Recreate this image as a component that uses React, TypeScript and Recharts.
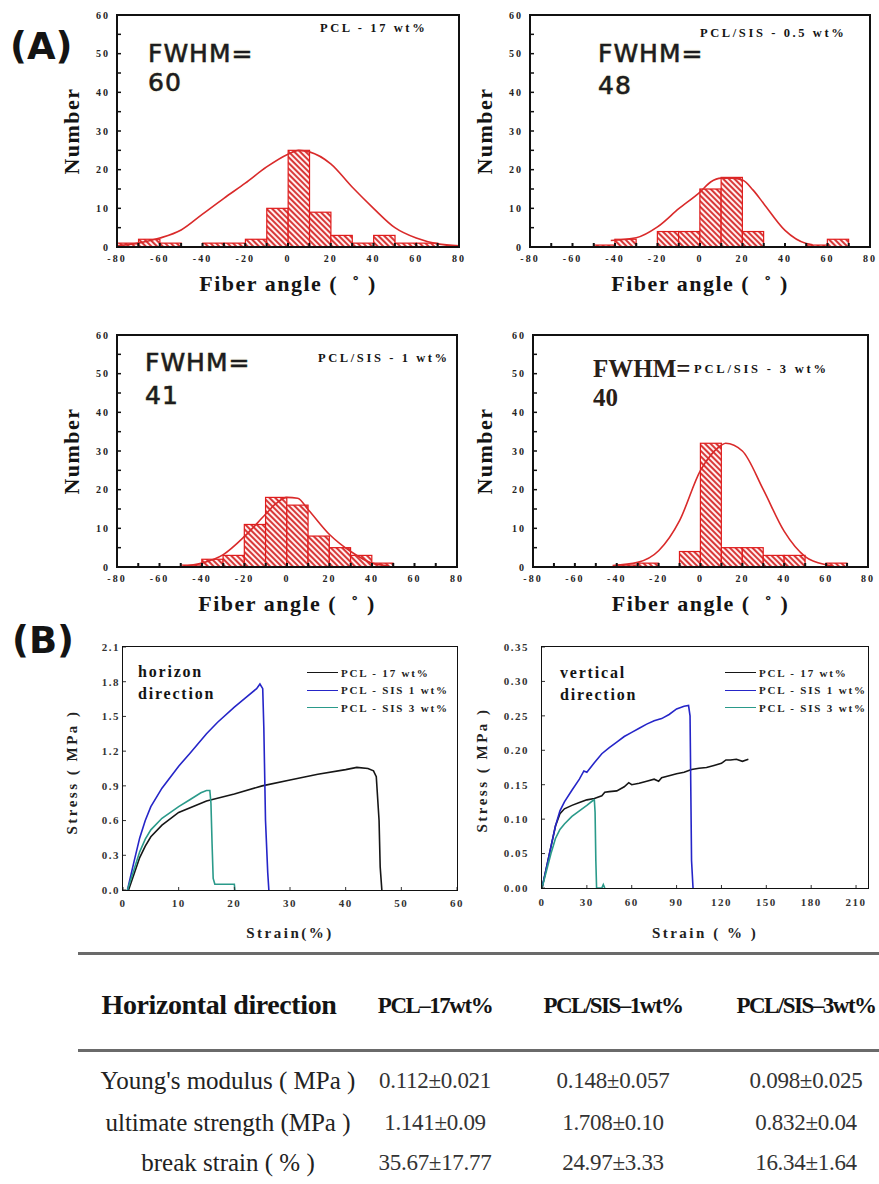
import React from 'react';
import { ComposedChart, LineChart, Bar, Line, XAxis, YAxis, Legend } from 'recharts';

// ---- (A) fiber angle histograms, 10 degree bins ----
const binCenters = [-75, -65, -55, -45, -35, -25, -15, -5, 5, 15, 25, 35, 45, 55, 65, 75];
const countsPcl17 = [1, 2, 1, 0, 1, 1, 2, 10, 25, 9, 3, 1, 3, 1, 1, 0];
const countsSis05 = [0, 0, 0, 0.5, 2, 0, 4, 4, 15, 18, 4, 0, 0, 0.5, 2, 0];
const countsSis1 = [0, 0, 0, 0.5, 2, 3, 11, 18, 16, 8, 5, 3, 1, 0, 0, 0];
const countsSis3 = [0, 0, 0, 0, 0.5, 1, 0, 4, 32, 5, 5, 3, 3, 0, 1, 0];

// fitted curves
const fitXPcl17 = [-80, -70, -60, -50, -40, -30, -20, -10, 0, 5, 10, 20, 30, 40, 50, 60, 70, 80];
const fitYPcl17 = [0.3, 1, 2.3, 4.4, 8.5, 12.6, 16.5, 20.7, 24, 25, 24.6, 21.5, 15.5, 10, 5, 2.3, 0.8, 0.3];
const fitXSis05 = [-42, -30, -20, -10, 0, 5, 10, 15, 20, 25, 30, 40, 50, 53];
const fitYSis05 = [1.7, 2.4, 5.2, 9.9, 14.2, 16.8, 17.8, 17.8, 17.3, 14.7, 11.2, 4.3, 0.9, 0.6];
const fitXSis1 = [-48, -40, -30, -20, -10, -5, 0, 5, 10, 20, 30, 40, 48];
const fitYSis1 = [0.2, 1, 3.2, 7.9, 13.7, 16.5, 18, 17.8, 14.8, 8.4, 4, 1, 0.3];
const fitXSis3 = [-42, -30, -20, -10, 0, 5, 10, 12, 20, 30, 40, 50, 60, 63];
const fitYSis3 = [0.4, 1.2, 4.2, 12, 25, 29, 31.5, 32, 30, 20, 9.2, 2.7, 0.6, 0.3];

const angleTicks = [-80, -70, -60, -50, -40, -30, -20, -10, 0, 10, 20, 30, 40, 50, 60, 70, 80];
const countTicks = [0, 5, 10, 15, 20, 25, 30, 35, 40, 45, 50, 55, 60];

// ---- (B) stress-strain curves ----
const seriesNames = ['PCL - 17 wt%', 'PCL - SIS 1 wt%', 'PCL - SIS 3 wt%'];
const seriesColors = ['#161616', '#2525c8', '#2a9a8a'];

const hStrain17 = [1, 2, 3, 4, 5, 7, 10, 15, 20, 25, 30, 35, 40, 42, 44, 45, 45.5, 46, 46.2, 46.5];
const hStress17 = [0, 0.14, 0.28, 0.38, 0.46, 0.56, 0.67, 0.77, 0.83, 0.9, 0.95, 1.0, 1.04, 1.06, 1.05, 1.03, 0.98, 0.6, 0.2, 0];
const hStrain1 = [0.8, 2, 3, 4, 5, 7, 10, 12, 15, 17, 20, 22, 24, 24.6, 25.1, 25.3, 25.6, 26, 26.2];
const hStress1 = [0, 0.25, 0.45, 0.6, 0.72, 0.88, 1.07, 1.18, 1.35, 1.45, 1.58, 1.66, 1.74, 1.78, 1.74, 1.4, 0.6, 0.15, 0];
const hStrain3 = [0.8, 2, 3, 4, 5, 7, 10, 12, 14, 15, 15.6, 15.8, 16, 16.2, 16.5, 18, 20, 20.1];
const hStress3 = [0, 0.18, 0.33, 0.44, 0.52, 0.62, 0.72, 0.78, 0.84, 0.86, 0.86, 0.75, 0.4, 0.1, 0.05, 0.05, 0.05, 0];

const vStrain17 = [0, 3, 6, 9, 12, 15, 20, 25, 30, 35, 40, 42, 45, 50, 55, 58, 60, 65, 70, 75, 78, 80, 85, 90, 95, 100, 105, 110, 115, 120, 123, 126, 130, 134, 138];
const vStress17 = [0, 0.03, 0.06, 0.09, 0.108, 0.115, 0.12, 0.124, 0.128, 0.13, 0.134, 0.139, 0.14, 0.141, 0.147, 0.153, 0.15, 0.152, 0.155, 0.158, 0.155, 0.16, 0.163, 0.166, 0.168, 0.172, 0.174, 0.175, 0.178, 0.181, 0.186, 0.186, 0.187, 0.184, 0.187];
const vStrain1 = [0, 3, 6, 9, 12, 15, 20, 25, 28, 30, 35, 40, 45, 50, 55, 60, 65, 70, 75, 80, 85, 90, 95, 98, 99, 100, 101];
const vStress1 = [0, 0.03, 0.06, 0.09, 0.112, 0.125, 0.142, 0.158, 0.17, 0.168, 0.182, 0.195, 0.204, 0.212, 0.22, 0.226, 0.232, 0.238, 0.243, 0.246, 0.252, 0.26, 0.264, 0.265, 0.25, 0.04, 0];
const vStrain3 = [0, 3, 6, 9, 12, 15, 20, 25, 30, 34, 35, 35.5, 36, 36.5, 40, 41, 42];
const vStress3 = [0, 0.025, 0.05, 0.072, 0.085, 0.093, 0.104, 0.112, 0.12, 0.127, 0.128, 0.11, 0.04, 0, 0, 0.005, 0];

const hStrainTicks = [0, 10, 20, 30, 40, 50, 60];
const hStressTicks = [0, 0.3, 0.6, 0.9, 1.2, 1.5, 1.8, 2.1];
const vStrainTicks = [0, 30, 60, 90, 120, 150, 180, 210];
const vStressTicks = [0, 0.05, 0.1, 0.15, 0.2, 0.25, 0.3, 0.35];

// ---- table ----
const tableColumns = ['PCL–17wt%', 'PCL/SIS–1wt%', 'PCL/SIS–3wt%'];
const tableRows = ["Young's modulus ( MPa )", 'ultimate strength (MPa )', 'break strain ( % )'];
const tableValues = [
  ['0.112±0.021', '0.148±0.057', '0.098±0.025'],
  ['1.141±0.09', '1.708±0.10', '0.832±0.04'],
  ['35.67±17.77', '24.97±3.33', '16.34±1.64'],
];

const SERIF = '"Liberation Serif", "Times New Roman", serif';
const SANS = '"DejaVu Sans", sans-serif';

const toPoints = (xs: number[], ys: number[], xKey: string, yKey: string) =>
  xs.map((x, i) => ({ [xKey]: x, [yKey]: ys[i] }));

type Frame = [number, number, number, number];

function Txt({ x, y, children, style, center, rotate }: any) {
  let transform = center ? 'translate(-50%,-50%)' : 'translateY(-50%)';
  if (rotate) transform += ' rotate(-90deg)';
  return (
    <div style={{ position: 'absolute', left: x, top: y, transform, whiteSpace: 'nowrap', lineHeight: 1, color: '#141414', ...style }}>
      {children}
    </div>
  );
}

function Box({ frame, w = 2 }: { frame: Frame; w?: number }) {
  const [x, y, fw, fh] = frame;
  return (
    <div style={{ position: 'absolute', left: x - w / 2, top: y - w / 2, width: fw + w, height: fh + w, border: `${w}px solid #111`, boxSizing: 'border-box' }} />
  );
}

const histTick = { fontSize: 10, fontWeight: 700, fill: '#222', fontFamily: SERIF, letterSpacing: 2 };

function Histogram({ id, frame, counts, fitX, fitY }: { id: string; frame: Frame; counts: number[]; fitX: number[]; fitY: number[] }) {
  const [x, y, w, h] = frame;
  const data = toPoints(binCenters, counts, 'angle', 'count');
  const fit = toPoints(fitX, fitY, 'angle', 'fit');
  // a bin covers 10 of the 160 degrees on the axis
  const binWidth = w / 16;
  const binShape = (p: any) => {
    if (!p.height || p.height <= 0) return <g />;
    const cx = p.x + p.width / 2;
    return (
      <rect x={cx - binWidth / 2} y={p.y} width={binWidth} height={p.height} fill={`url(#${id})`} stroke="#e01c1c" strokeWidth={1.2} />
    );
  };
  return (
    <div style={{ position: 'absolute', left: x - 60, top: y - 20 }}>
      <ComposedChart width={w + 80} height={h + 70} data={data} margin={{ top: 20, right: 20, bottom: 20, left: 20 }} barCategoryGap={0} barGap={0}>
        <defs>
          <pattern id={id} patternUnits="userSpaceOnUse" width="4" height="4" patternTransform="rotate(-45)">
            <rect width="4" height="4" fill="#fff0f0" />
            <line x1="1" y1="0" x2="1" y2="4" stroke="#d42424" strokeWidth="1.8" />
          </pattern>
        </defs>
        <XAxis
          dataKey="angle"
          type="number"
          domain={[-80, 80]}
          ticks={angleTicks}
          interval={0}
          allowDataOverflow
          height={30}
          axisLine={false}
          tickSize={-4}
          tickMargin={12}
          tickLine={{ stroke: '#111', strokeWidth: 2 }}
          tickFormatter={(v: number) => (v % 20 === 0 ? String(v) : '')}
          tick={histTick}
        />
        <YAxis
          type="number"
          domain={[0, 60]}
          ticks={countTicks}
          interval={0}
          allowDataOverflow
          width={40}
          axisLine={false}
          tickSize={-4}
          tickMargin={11}
          tickLine={{ stroke: '#111', strokeWidth: 1.5 }}
          tickFormatter={(v: number) => (v % 10 === 0 ? String(v) : '')}
          tick={histTick}
        />
        <Bar dataKey="count" shape={binShape} isAnimationActive={false} />
        <Line data={fit} dataKey="fit" type="monotone" stroke="#d92a2a" strokeWidth={1.6} dot={false} isAnimationActive={false} />
      </ComposedChart>
    </div>
  );
}

const ssTick = { fontSize: 11, fontWeight: 700, fill: '#333', fontFamily: SERIF, letterSpacing: 1.5 };

function renderLegend(props: any) {
  const { payload } = props;
  return (
    <div>
      {(payload || []).map((p: any) => (
        <div key={p.value} style={{ display: 'flex', alignItems: 'center', height: 17.5 }}>
          <span style={{ display: 'inline-block', width: 31, borderTop: `1.6px solid ${p.color}`, marginRight: 3 }} />
          <span style={{ fontFamily: SERIF, fontWeight: 700, fontSize: 11, letterSpacing: 1.8, color: '#222' }}>{p.value}</span>
        </div>
      ))}
    </div>
  );
}

function StressChart({ frame, xMax, xTicks, yMax, yTicks, digits, yMargin, xMargin, series, legendAt }: any) {
  const [x, y, w, h] = frame;
  return (
    <div style={{ position: 'absolute', left: x - 60, top: y - 20 }}>
      <LineChart width={w + 80} height={h + 70} margin={{ top: 20, right: 20, bottom: 20, left: 20 }}>
        <XAxis
          dataKey="strain"
          type="number"
          domain={[0, xMax]}
          ticks={xTicks}
          interval={0}
          allowDataOverflow
          height={30}
          axisLine={false}
          tickSize={-3}
          tickMargin={xMargin}
          tickLine={{ stroke: '#333' }}
          tick={ssTick}
        />
        <YAxis
          type="number"
          domain={[0, yMax]}
          ticks={yTicks}
          interval={0}
          allowDataOverflow
          width={40}
          axisLine={false}
          tickSize={-3}
          tickMargin={yMargin}
          tickLine={{ stroke: '#333' }}
          tickFormatter={(v: number) => v.toFixed(digits)}
          tick={ssTick}
        />
        <Legend
          content={renderLegend}
          layout="vertical"
          align="center"
          verticalAlign="middle"
          wrapperStyle={{ left: legendAt[0], top: legendAt[1], width: 'auto', height: 'auto' }}
        />
        {series.map((s: any) => (
          <Line
            key={s.name}
            data={s.data}
            dataKey="stress"
            name={s.name}
            type="linear"
            stroke={s.color}
            strokeWidth={1.6}
            dot={false}
            isAnimationActive={false}
          />
        ))}
      </LineChart>
    </div>
  );
}

const H1: Frame = [117, 15, 342, 232];
const H2: Frame = [530, 15, 340, 232];
const H3: Frame = [117, 335, 340, 232];
const H4: Frame = [533, 335, 335, 232];
const S1: Frame = [123, 647, 334, 243];
const S2: Frame = [542, 647, 326, 241];

const fwhmStyle = { fontFamily: SANS, fontSize: 25, letterSpacing: 1, color: '#1c1c1c', WebkitTextStroke: '0.6px #1c1c1c', textShadow: '0 0 3px #f3ecc8' };
const titleStyle = { fontFamily: SERIF, fontWeight: 700, fontSize: 12.5, letterSpacing: 2.6 };
const axisTitle = { fontFamily: SERIF, fontWeight: 700, fontSize: 22, letterSpacing: 1.5 };
const ssAxisTitle = { fontFamily: SERIF, fontWeight: 700, fontSize: 15, letterSpacing: 2.5, color: '#222' };
const dirStyle = { fontFamily: SERIF, fontWeight: 700, fontSize: 16, letterSpacing: 1.8 };

export default function App() {
  const hSeries = [
    { name: seriesNames[0], color: seriesColors[0], data: toPoints(hStrain17, hStress17, 'strain', 'stress') },
    { name: seriesNames[1], color: seriesColors[1], data: toPoints(hStrain1, hStress1, 'strain', 'stress') },
    { name: seriesNames[2], color: seriesColors[2], data: toPoints(hStrain3, hStress3, 'strain', 'stress') },
  ];
  const vSeries = [
    { name: seriesNames[0], color: seriesColors[0], data: toPoints(vStrain17, vStress17, 'strain', 'stress') },
    { name: seriesNames[1], color: seriesColors[1], data: toPoints(vStrain1, vStress1, 'strain', 'stress') },
    { name: seriesNames[2], color: seriesColors[2], data: toPoints(vStrain3, vStress3, 'strain', 'stress') },
  ];
  const colCenters = [435, 613, 806];
  const rowYs = [1080, 1122, 1162];

  return (
    <div style={{ position: 'absolute', left: 0, top: 0, width: 879, height: 1184, overflow: 'hidden', background: '#fff' }}>
      <Txt x={10} y={46} style={{ fontFamily: SANS, fontWeight: 700, fontSize: 37 }}>(A)</Txt>
      <Txt x={12} y={640} style={{ fontFamily: SANS, fontWeight: 700, fontSize: 37 }}>(B)</Txt>

      <Histogram id="hatch1" frame={H1} counts={countsPcl17} fitX={fitXPcl17} fitY={fitYPcl17} />
      <Histogram id="hatch2" frame={H2} counts={countsSis05} fitX={fitXSis05} fitY={fitYSis05} />
      <Histogram id="hatch3" frame={H3} counts={countsSis1} fitX={fitXSis1} fitY={fitYSis1} />
      <Histogram id="hatch4" frame={H4} counts={countsSis3} fitX={fitXSis3} fitY={fitYSis3} />
      <Box frame={H1} />
      <Box frame={H2} />
      <Box frame={H3} />
      <Box frame={H4} />

      {[H1, H2, H3, H4].map((f, i) => (
        <React.Fragment key={i}>
          <Txt x={i % 2 === 0 ? 72 : 485} y={f[1] + f[3] / 2} center rotate style={axisTitle}>Number</Txt>
          <Txt x={f[0] + f[2] / 2} y={f[1] + f[3] + 37} center style={axisTitle}>Fiber angle (&nbsp;&nbsp;˚ )</Txt>
        </React.Fragment>
      ))}

      <Txt x={148} y={53} style={fwhmStyle}>FWHM=</Txt>
      <Txt x={148} y={82} style={fwhmStyle}>60</Txt>
      <Txt x={320} y={28} style={titleStyle}>PCL - 17 wt%</Txt>

      <Txt x={598} y={53} style={fwhmStyle}>FWHM=</Txt>
      <Txt x={598} y={85} style={fwhmStyle}>48</Txt>
      <Txt x={700} y={33} style={titleStyle}>PCL/SIS - 0.5 wt%</Txt>

      <Txt x={145} y={362} style={fwhmStyle}>FWHM=</Txt>
      <Txt x={145} y={395} style={fwhmStyle}>41</Txt>
      <Txt x={318} y={358} style={titleStyle}>PCL/SIS - 1 wt%</Txt>

      <Txt x={593} y={368} style={{ fontFamily: SERIF, fontWeight: 700, fontSize: 25, color: '#2a2018' }}>FWHM=</Txt>
      <Txt x={593} y={397} style={{ fontFamily: SERIF, fontWeight: 700, fontSize: 25, color: '#2a2018' }}>40</Txt>
      <Txt x={694} y={369} style={{ ...titleStyle, fontSize: 12.5, letterSpacing: 2.8 }}>PCL/SIS - 3 wt%</Txt>

      <StressChart frame={S1} xMax={60} xTicks={hStrainTicks} yMax={2.1} yTicks={hStressTicks} digits={1} yMargin={6} xMargin={12} series={hSeries} legendAt={[244, 37]} />
      <StressChart frame={S2} xMax={218} xTicks={vStrainTicks} yMax={0.35} yTicks={vStressTicks} digits={2} yMargin={16} xMargin={13} series={vSeries} legendAt={[243, 37]} />
      <Box frame={S1} w={1.5} />
      <Box frame={S2} w={1.5} />

      <Txt x={138} y={672} style={dirStyle}>horizon</Txt>
      <Txt x={138} y={694} style={dirStyle}>direction</Txt>
      <Txt x={560} y={673} style={dirStyle}>vertical</Txt>
      <Txt x={560} y={695} style={dirStyle}>direction</Txt>

      <Txt x={72} y={772} center rotate style={ssAxisTitle}>Stress ( MPa )</Txt>
      <Txt x={290} y={933} center style={ssAxisTitle}>Strain(%)</Txt>
      <Txt x={482} y={770} center rotate style={ssAxisTitle}>Stress ( MPa )</Txt>
      <Txt x={705} y={933} center style={ssAxisTitle}>Strain ( % )</Txt>

      <div style={{ position: 'absolute', left: 78, top: 952, width: 820, height: 3, background: '#6a6a6a' }} />
      <div style={{ position: 'absolute', left: 78, top: 1049, width: 820, height: 3, background: '#6a6a6a' }} />
      <Txt x={219} y={1005} center style={{ fontFamily: SERIF, fontWeight: 700, fontSize: 28, letterSpacing: -0.4 }}>Horizontal direction</Txt>
      {tableColumns.map((c, i) => (
        <Txt key={c} x={colCenters[i]} y={1005} center style={{ fontFamily: SERIF, fontWeight: 700, fontSize: 23, letterSpacing: -1.5 }}>{c}</Txt>
      ))}
      {tableRows.map((r, ri) => (
        <React.Fragment key={r}>
          <Txt x={228} y={rowYs[ri]} center style={{ fontFamily: SERIF, fontSize: 25, color: '#222' }}>{r}</Txt>
          {tableValues[ri].map((v, ci) => (
            <Txt key={ci} x={colCenters[ci]} y={rowYs[ri]} center style={{ fontFamily: SERIF, fontSize: 23, color: '#333', letterSpacing: -0.3 }}>{v}</Txt>
          ))}
        </React.Fragment>
      ))}
    </div>
  );
}
